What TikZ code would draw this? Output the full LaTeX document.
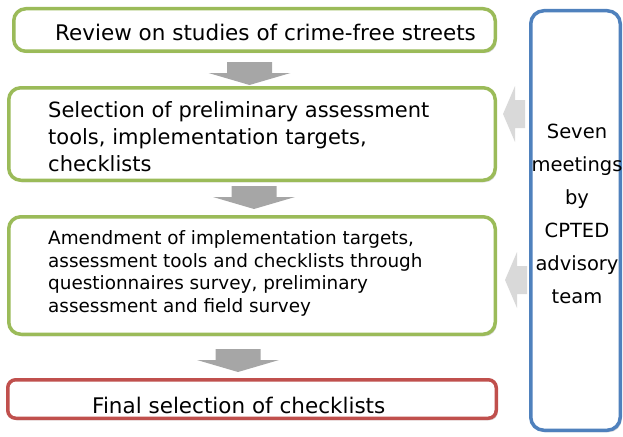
\documentclass[tikz,border=0pt]{standalone}
\usepackage{fontspec}
\setmainfont{DejaVu Sans}
\usetikzlibrary{shadows}

\definecolor{stagegreen}{HTML}{9BBB59}
\definecolor{stagered}{HTML}{C0504D}
\definecolor{teamblue}{HTML}{4F81BD}
\definecolor{arrowdark}{HTML}{A6A6A6}
\definecolor{arrowlight}{HTML}{D9D9D9}

\tikzset{
  stage/.style={draw=stagegreen, line width=3.5pt, fill=white, rounded corners=12pt,
    drop shadow={shadow xshift=1.5pt, shadow yshift=-2pt, opacity=0.3}},
  txt/.style={anchor=west, inner sep=0pt, align=left},
  pics/downblock/.style={code={
    \fill[arrowdark] (-22.5,0) -- (22.5,0) -- (22.5,11) -- (41,11) -- (0,23)
      -- (-41,11) -- (-22.5,11) -- cycle;}},
  pics/leftblock/.style={code={
    \fill[arrowlight] (0,0) -- (12,-28) -- (12,-14) -- (22,-14) -- (22,14)
      -- (12,14) -- (12,28) -- cycle;}}
}

\begin{document}
\begin{tikzpicture}[x=1pt, y=-1pt]
      \useasboundingbox (0,0) rectangle (623,436);

      % boxes of the procedure
      \node[stage, minimum width=481.5pt, minimum height=42.5pt] (Review) at (254.5, 30) {};
      \node[stage, minimum width=486.5pt, minimum height=92.5pt] (Select) at (252, 134) {};
      \node[stage, minimum width=486.5pt, minimum height=117.5pt] (Amend) at (252, 275.5) {};
      \node[stage, draw=stagered, rounded corners=8pt, minimum width=488.5pt, minimum height=38.5pt] (Final) at (252, 399) {};
      \node[stage, draw=teamblue, rounded corners=13pt, minimum width=89.5pt, minimum height=419.5pt] (Team) at (575.5, 220.5) {};

      % texts
      \node[txt, font=\fontsize{21.5}{27}\selectfont] (ReviewT) at (55, 32) {Review on studies of crime-free streets};
      \node[txt, font=\fontsize{21}{27}\selectfont] (SelectT) at (48, 137) {Selection of preliminary assessment\\ tools, implementation targets,\\ checklists};
      \node[txt, font=\fontsize{18.4}{22.4}\selectfont] (AmendT) at (48, 273.5) {Amendment of implementation targets,\\ assessment tools and checklists through\\ questionnaires survey, preliminary\\ assessment and field survey};
      \node[txt, font=\fontsize{21.5}{27}\selectfont] (FinalT) at (92, 405) {Final selection of checklists};
      \node[inner sep=0pt, align=center, font=\fontsize{19.5}{33}\selectfont] (TeamT) at (577, 214) {Seven\\ meetings\\ by\\ CPTED\\ advisory\\ team};

      % block arrows
      \pic (A1) at (249.5, 62) {downblock};
      \pic (A2) at (254, 186) {downblock};
      \pic (A3) at (238, 349) {downblock};
      \pic (B1) at (503, 114) {leftblock};
      \pic (B2) at (505, 280) {leftblock};
    \end{tikzpicture}
\end{document}
